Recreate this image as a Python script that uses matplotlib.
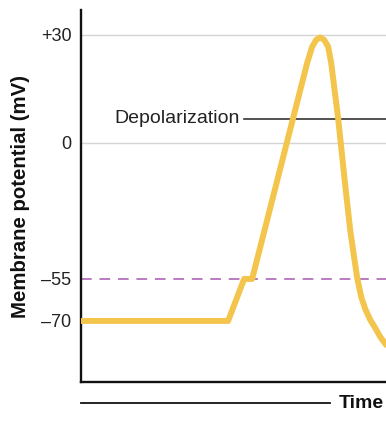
import numpy as np
import matplotlib
matplotlib.use("Agg")
import matplotlib.pyplot as plt
from matplotlib.lines import Line2D

plt.rcParams['font.family'] = ['Liberation Sans', 'DejaVu Sans']

# Data (arbitrary time units, membrane potential in mV)
time = [0, 147, 163, 171, 226, 231, 235, 239, 243, 247, 250, 257,
        264, 269, 273, 276, 280, 284, 289, 294, 299, 305, 314, 324]
voltage = [-70, -70, -55, -55, 22.2, 26.7, 28.6, 29.3, 28.6, 26.7, 22.2, 6.7,
           -17.0, -35.2, -46.5, -54.6, -61.4, -65.7, -69.6, -72.5, -75.7,
           -78.6, -81.0, -82.5]
tick_values = [30, 0, -55, -70]
tick_labels = ['+30', '0', '\u201355', '\u201370']
threshold = -55
gridlines = [30, 0]
depol_level = 6.7

# schematic (non-linear) vertical scale of the drawing
mv_pts = np.array([-100.0, -70.0, -55.0, 0.0, 30.0, 60.0])
pos_pts = np.array([-405.0, -321.0, -279.0, -143.0, -35.0, 73.0])

def fwd(v):
    return np.interp(v, mv_pts, pos_pts)

def inv(u):
    return np.interp(u, pos_pts, mv_pts)

fig = plt.figure(figsize=(3.86, 4.36), dpi=100)
ax = fig.add_axes([81/386, 54/436, 0.84, (382-10)/436])
ax.set_yscale('function', functions=(fwd, inv))
ax.set_xlim(0, 324)
ax.set_ylim(-91.8, 36.9)

for g in gridlines:
    ax.axhline(g, color='#d4d4d4', lw=1.0, zorder=1)
ax.axhline(threshold, color='#b97cc0', lw=1.4, dashes=(5.5, 4), zorder=2)

ax.plot([163, 324], [depol_level, depol_level], color='#222222', lw=1.1, zorder=2)
ax.text(159, depol_level, 'Depolarization', ha='right', va='center',
        fontsize=14, color='#222222')

ax.plot(time, voltage, color='#f4c54c', lw=4.3, solid_joinstyle='round',
        solid_capstyle='butt', zorder=3)

ax.set_yticks(tick_values)
ax.set_yticklabels(tick_labels, fontsize=13, color='#222222')
ax.set_xticks([])
ax.tick_params(axis='y', length=0, pad=7)
ax.yaxis.set_minor_locator(matplotlib.ticker.NullLocator())
for s in ['top', 'right']:
    ax.spines[s].set_visible(False)
for s in ['left', 'bottom']:
    ax.spines[s].set_linewidth(1.7)
    ax.spines[s].set_color('#111111')

ax.set_ylabel('Membrane potential (mV)', fontsize=14.7, fontweight='bold',
              labelpad=8, color='#111111')

fig.add_artist(Line2D([81/386, 330/386], [33/436, 33/436], color='#111111', lw=1.3))
fig.text(339/386, 33/436, 'Time', ha='left', va='center', fontsize=14,
         fontweight='bold', color='#111111')

fig.savefig('out.png', dpi=100)
